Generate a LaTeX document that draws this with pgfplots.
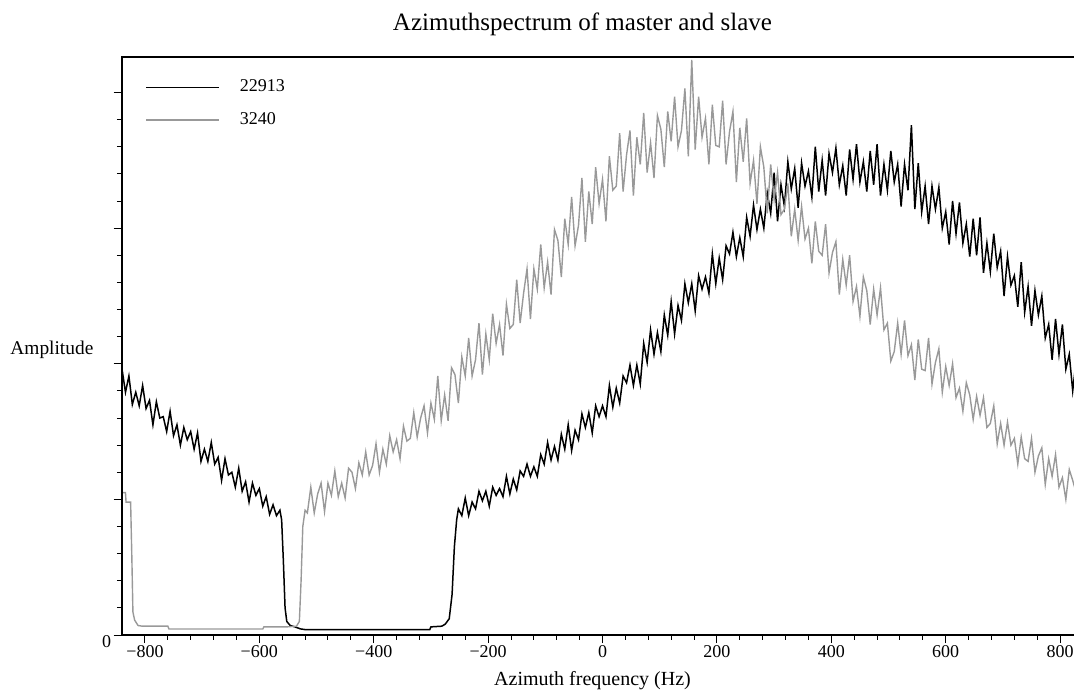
\documentclass[border=0pt]{standalone}
\usepackage{fontspec}
\setmainfont{Liberation Serif}
\usepackage{pgfplots}
\pgfplotsset{compat=1.18}
\definecolor{slavegray}{gray}{0.6}
\begin{document}
\begin{tikzpicture}
\useasboundingbox (0,0) rectangle (537pt,345.5pt);
\begin{axis}[
  scale only axis, width=476.15pt, height=288.85pt,
  at={(60.85pt,28pt)}, anchor=south west,
  xmin=-840.6, xmax=824.3, ymin=0, ymax=4.26,
  axis line style={draw=none},
  tick pos=left, tick align=outside,
  xtick={-800,-600,...,800},
  xticklabels={−800,−600,−400,−200,0,200,400,600,800},
  minor x tick num=4,
  ytick={0,1,2,3,4}, yticklabels={},
  minor y tick num=4,
  major tick length=4pt, minor tick length=2.4pt,
  tick style={black, line width=0.5pt},
  xticklabel style={font=\fontsize{9}{10}\selectfont, yshift=2.5pt},
  clip mode=individual,
  legend cell align=left,
  legend style={draw=none, fill=none, at={(axis description cs:0,1)}, anchor=north west,
    xshift=11.65pt, yshift=-11.15pt, inner sep=0pt, row sep=8.9pt, column sep=10pt,
    font=\fontsize{9}{10}\selectfont, nodes={inner sep=0pt}},
  legend image code/.code={\draw[#1] (0pt,0pt) -- (36.5pt,0pt);},
]
\addplot[black, line width=0.75pt] coordinates {
(-840,1.96)(-834,1.79)(-828,1.91)(-822,1.70)(-816,1.79)(-810,1.69)(-804,1.84)(-798,1.67)(-792,1.73)(-786,1.55)(-780,1.72)(-774,1.60)(-768,1.61)(-762,1.50)(-756,1.65)(-750,1.47)(-744,1.55)(-738,1.40)(-732,1.53)(-726,1.44)(-720,1.50)(-714,1.37)(-708,1.49)(-702,1.28)(-696,1.37)(-690,1.28)(-684,1.42)(-678,1.26)(-672,1.31)(-666,1.14)(-660,1.30)(-654,1.18)(-648,1.20)(-642,1.09)(-636,1.23)(-630,1.06)(-624,1.13)(-618,0.98)(-612,1.12)(-606,1.03)(-600,1.08)(-594,0.95)(-588,1.02)(-582,0.89)(-576,0.96)(-570,0.88)(-564,0.92)
(-561,0.85)(-558,0.55)(-555,0.20)(-552,0.10)(-546,0.07)(-538,0.06)(-528,0.045)(-520,0.04)(-400,0.04)(-302,0.04)(-300,0.06)(-281,0.065)(-275,0.08)(-268,0.12)(-263,0.30)(-259,0.65)(-255,0.85)
(-252,0.93)(-246,0.88)(-240,1.01)(-234,0.88)(-228,0.98)(-222,0.93)(-216,1.06)(-210,0.99)(-204,1.06)(-198,0.95)(-192,1.09)(-186,1.03)(-180,1.08)(-174,1.02)(-168,1.17)(-162,1.04)(-156,1.15)(-150,1.07)(-144,1.21)(-138,1.17)(-132,1.26)(-126,1.17)(-120,1.24)(-114,1.17)(-108,1.33)(-102,1.26)(-96,1.42)(-90,1.29)(-84,1.39)(-78,1.29)(-72,1.48)(-66,1.37)(-60,1.55)(-54,1.36)(-48,1.51)(-42,1.44)(-36,1.63)(-30,1.53)(-24,1.64)(-18,1.49)(-12,1.69)(-6,1.61)(0,1.69)(6,1.61)(12,1.84)(18,1.68)(24,1.82)(30,1.71)(36,1.91)(42,1.86)(48,1.99)(54,1.84)(60,1.99)(66,1.85)(72,2.15)(78,2.01)(84,2.25)(90,2.07)(96,2.23)(102,2.09)(108,2.36)(114,2.21)(120,2.46)(126,2.22)(132,2.43)(138,2.32)(144,2.59)(150,2.45)(156,2.59)(162,2.39)(168,2.65)(174,2.55)(180,2.64)(186,2.52)(192,2.81)(198,2.59)(204,2.78)(210,2.62)(216,2.87)(222,2.81)(228,2.97)(234,2.79)(240,2.93)(246,2.79)(252,3.08)(258,2.94)(264,3.17)(270,2.99)(276,3.14)(282,3.00)(288,3.26)(294,3.11)(300,3.41)(306,3.05)(312,3.32)(318,3.16)(324,3.49)(330,3.29)(336,3.44)(342,3.15)(348,3.48)(354,3.31)(360,3.42)(366,3.23)(372,3.60)(378,3.27)(384,3.50)(390,3.24)(396,3.55)(402,3.41)(408,3.59)(414,3.32)(420,3.46)(426,3.24)(432,3.58)(438,3.36)(444,3.62)(450,3.34)(456,3.49)(462,3.27)(468,3.57)(474,3.32)(480,3.62)(486,3.24)(492,3.47)(498,3.28)(504,3.57)(510,3.34)(516,3.47)(522,3.16)(528,3.47)(534,3.28)(540,3.76)(546,3.14)(552,3.48)(558,3.12)(564,3.31)(570,3.03)(576,3.31)(582,3.14)(588,3.30)(594,3.00)(600,3.12)(606,2.88)(612,3.20)(618,2.96)(624,3.19)(630,2.89)(636,3.03)(642,2.79)(648,3.07)(654,2.80)(660,3.08)(666,2.67)(672,2.89)(678,2.68)(684,2.96)(690,2.71)(696,2.83)(702,2.50)(708,2.79)(714,2.58)(720,2.65)(726,2.42)(732,2.75)(738,2.38)(744,2.57)(750,2.28)(756,2.54)(762,2.36)(768,2.50)(774,2.19)(780,2.29)(786,2.03)(792,2.33)(798,2.07)(804,2.29)(810,1.96)(816,2.07)(822,1.80)(826,1.95)
};
\addlegendentry{22913}
\addplot[slavegray, line width=0.7pt] coordinates {
(-840,1.05)(-834,1.05)(-833,0.98)(-825,0.98)(-823,0.60)(-821,0.17)(-818,0.11)(-812,0.07)(-806,0.066)(-760,0.066)(-758,0.044)(-594,0.044)(-592,0.06)(-552,0.06)(-535,0.065)(-530,0.10)(-527,0.40)(-524,0.80)(-520,0.92)
(-516,0.90)(-510,1.09)(-504,0.90)(-498,1.04)(-492,1.12)(-486,0.91)(-480,1.12)(-474,1.03)(-468,1.21)(-462,1.02)(-456,1.12)(-450,1.01)(-444,1.23)(-438,1.20)(-432,1.08)(-426,1.27)(-420,1.18)(-414,1.35)(-408,1.18)(-402,1.25)(-396,1.41)(-390,1.20)(-384,1.37)(-378,1.26)(-372,1.47)(-366,1.35)(-360,1.44)(-354,1.30)(-348,1.54)(-342,1.43)(-336,1.45)(-330,1.64)(-324,1.46)(-318,1.60)(-312,1.69)(-306,1.49)(-300,1.71)(-294,1.59)(-288,1.91)(-282,1.58)(-276,1.77)(-270,1.58)(-264,1.97)(-258,1.92)(-252,1.71)(-246,2.05)(-240,1.91)(-234,2.19)(-228,1.91)(-222,2.03)(-216,2.30)(-210,1.92)(-204,2.22)(-198,2.03)(-192,2.37)(-186,2.15)(-180,2.29)(-174,2.06)(-168,2.44)(-162,2.26)(-156,2.29)(-150,2.62)(-144,2.30)(-138,2.52)(-132,2.70)(-126,2.33)(-120,2.70)(-114,2.55)(-108,2.88)(-102,2.56)(-96,2.75)(-90,2.51)(-84,2.99)(-78,2.91)(-72,2.64)(-66,3.07)(-60,2.88)(-54,3.23)(-48,2.87)(-42,3.02)(-36,3.37)(-30,2.90)(-24,3.27)(-18,3.03)(-12,3.45)(-6,3.18)(0,3.36)(6,3.05)(12,3.53)(18,3.28)(24,3.31)(30,3.70)(36,3.27)(42,3.54)(48,3.72)(54,3.24)(60,3.67)(66,3.47)(72,3.85)(78,3.41)(84,3.63)(90,3.37)(96,3.83)(102,3.73)(108,3.45)(114,3.86)(120,3.64)(126,3.97)(132,3.60)(138,3.72)(144,4.03)(150,3.53)(156,4.24)(162,3.58)(168,3.97)(174,3.67)(180,3.81)(186,3.47)(192,3.91)(198,3.61)(204,3.60)(210,3.94)(216,3.47)(222,3.71)(228,3.86)(234,3.34)(240,3.74)(246,3.49)(252,3.81)(258,3.33)(264,3.50)(270,3.18)(276,3.60)(282,3.45)(288,3.11)(294,3.47)(300,3.21)(306,3.41)(312,3.10)(318,3.14)(324,3.33)(330,2.94)(336,3.14)(342,2.91)(348,3.16)(354,2.92)(360,3.00)(366,2.74)(372,3.05)(378,2.83)(384,2.80)(390,3.03)(396,2.67)(402,2.82)(408,2.90)(414,2.51)(420,2.77)(426,2.58)(432,2.80)(438,2.46)(444,2.57)(450,2.35)(456,2.64)(462,2.54)(468,2.29)(474,2.55)(480,2.36)(486,2.56)(492,2.25)(498,2.30)(504,2.02)(510,2.09)(516,2.30)(522,2.07)(528,2.32)(534,2.06)(540,2.14)(546,1.88)(552,2.18)(558,1.96)(564,1.95)(570,2.19)(576,1.85)(582,2.01)(588,2.11)(594,1.79)(600,1.98)(606,1.84)(612,2.00)(618,1.75)(624,1.82)(630,1.65)(636,1.86)(642,1.77)(648,1.59)(654,1.76)(660,1.62)(666,1.75)(672,1.53)(678,1.56)(684,1.69)(690,1.41)(696,1.56)(702,1.40)(708,1.57)(714,1.40)(720,1.45)(726,1.26)(732,1.46)(738,1.30)(744,1.28)(750,1.45)(756,1.20)(762,1.32)(768,1.38)(774,1.11)(780,1.30)(786,1.17)(792,1.33)(798,1.09)(804,1.16)(810,1.00)(816,1.22)(822,1.14)(826,1.08)
};
\addlegendentry{3240}
\draw[black, line width=0.9pt] (rel axis cs:1.01,1) -- (rel axis cs:0,1) -- (rel axis cs:0,0) -- (rel axis cs:1.01,0);
\end{axis}
\node[anchor=base east, inner sep=0pt, font=\fontsize{9}{10}\selectfont] at (55.8pt,21.65pt) {0};
\node[anchor=base, inner sep=0pt, font=\fontsize{12.5}{14}\selectfont] at (291.25pt,330.2pt) {Azimuthspectrum of master and slave};
\node[anchor=base, inner sep=0pt, font=\fontsize{10}{12}\selectfont] at (296.25pt,2.8pt) {Azimuth frequency (Hz)};
\node[anchor=base west, inner sep=0pt, font=\fontsize{9.7}{11}\selectfont] at (5pt,168pt) {Amplitude};
\end{tikzpicture}
\end{document}
